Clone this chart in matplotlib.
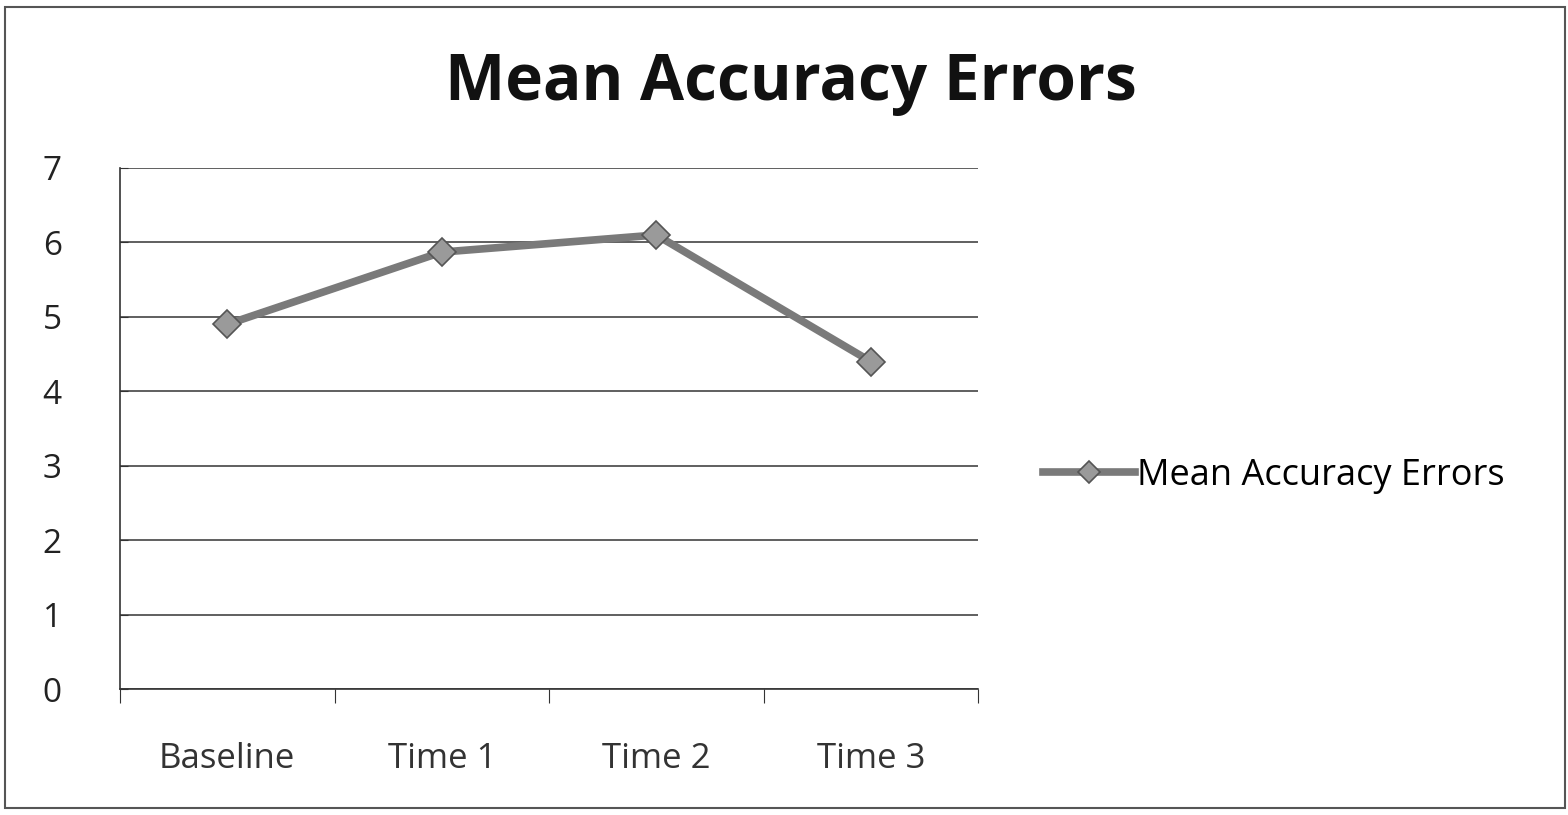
import matplotlib
matplotlib.use("Agg")
import matplotlib.pyplot as plt
from matplotlib.patches import Rectangle

categories = ["Baseline", "Time 1", "Time 2", "Time 3"]
values = [4.9, 5.87, 6.1, 4.4]
series_name = "Mean Accuracy Errors"
yticks = [0, 1, 2, 3, 4, 5, 6, 7]

W, H = 1568, 815
fig = plt.figure(figsize=(W / 100, H / 100), dpi=100)
fig.patch.set_facecolor("white")

# outer frame
fig.patches.append(Rectangle((5 / W, 7 / H), (W - 8) / W, (H - 14) / H,
                             transform=fig.transFigure, fill=False,
                             edgecolor="#555555", linewidth=1.5))

left, right, top, bottom = 120, 978, 168, 689
ax = fig.add_axes([left / W, 1 - bottom / H, (right - left) / W, (bottom - top) / H])

x = list(range(len(categories)))
ax.plot(x, values, color="#7a7a7a", linewidth=5.5, marker="D", markersize=14,
        markerfacecolor="#9a9a9a", markeredgecolor="#555555", markeredgewidth=1.2,
        label=series_name, zorder=3)

ax.set_xlim(-0.5, len(categories) - 0.5)
ax.set_ylim(0, 7)
ax.set_yticks(yticks)
ax.set_yticklabels([str(v) for v in yticks], fontsize=24, fontfamily="Open Sans", color="#222222")
ax.yaxis.grid(True, color="#444444", linewidth=1.2)
ax.set_axisbelow(True)

ax.set_xticks([i - 0.5 for i in range(len(categories) + 1)])
ax.set_xticklabels([])
ax.set_xticks(x, minor=True)
ax.set_xticklabels(categories, minor=True, fontsize=25, fontfamily="Open Sans", color="#333333")
ax.tick_params(axis="x", which="minor", length=0, pad=38)
ax.tick_params(axis="x", which="major", length=10, direction="out", color="#333333")
ax.tick_params(axis="y", length=6, direction="in", color="#333333", pad=42)

for s in ["top", "right"]:
    ax.spines[s].set_visible(False)
ax.spines["left"].set_color("#333333")
ax.spines["bottom"].set_color("#333333")
ax.spines["left"].set_linewidth(1.2)
ax.spines["bottom"].set_linewidth(1.2)

fig.text(791 / W, 1 - 84 / H, "Mean Accuracy Errors", ha="center", va="center",
         fontsize=46, fontweight="bold", fontfamily="Open Sans", color="#111111")

leg = ax.legend(loc="center left", bbox_to_anchor=(1043 / W, 1 - 476 / H),
                bbox_transform=fig.transFigure, frameon=False,
                prop={"family": "Open Sans", "size": 26},
                handlelength=2.55, handletextpad=0.05, borderpad=0, borderaxespad=0,
                markerscale=0.8)

fig.savefig("out.png", dpi=100, facecolor="white")
